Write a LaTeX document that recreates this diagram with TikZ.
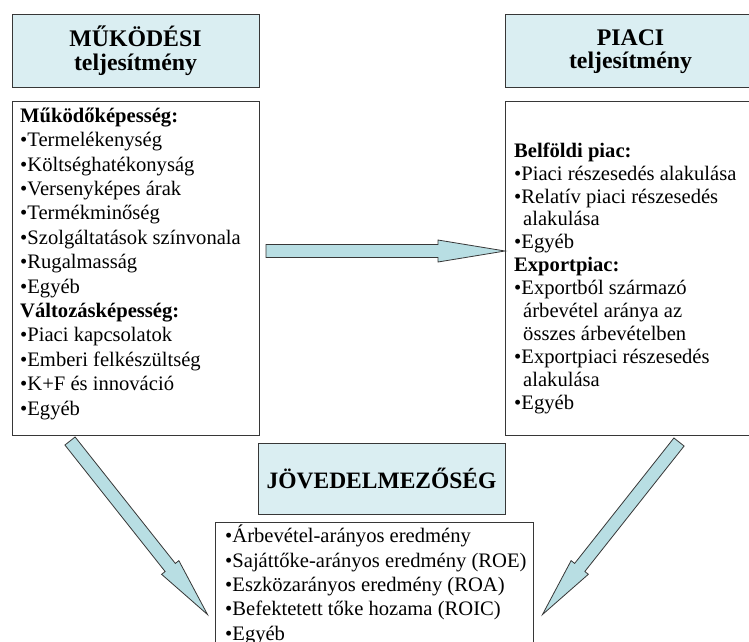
\documentclass[tikz,border=0pt]{standalone}
\usepackage{fontspec}
\setmainfont{Liberation Serif}
\usetikzlibrary{calc}
\definecolor{hdfill}{RGB}{218,238,242}
\definecolor{arfill}{RGB}{184,222,227}
\definecolor{edge}{RGB}{55,55,55}
\newcommand\blockarrow[4]{%
  \coordinate (#1b) at ($(#3)!#4!(#2)$);
  \draw[barrow] ($(#2)!6.5pt!90:(#3)$) -- ($(#1b)!6.5pt!90:(#3)$) -- ($(#1b)!11pt!90:(#3)$) -- (#3)
    -- ($(#1b)!11pt!-90:(#3)$) -- ($(#1b)!6.5pt!-90:(#3)$) -- ($(#2)!6.5pt!-90:(#3)$) -- cycle;}
\tikzset{
  hd/.style={draw=edge, line width=1pt, fill=hdfill, minimum width=247pt, inner sep=0pt, outer sep=0pt},
  bx/.style={draw=edge, line width=0.9pt, fill=white, inner sep=0pt, outer sep=0pt},
  hdtxt/.style={font=\bfseries\fontsize{23.8}{23.3}\selectfont, align=center, inner sep=0pt, anchor=north},
  bodytxt/.style={align=left, inner sep=0pt, anchor=north west},
  barrow/.style={draw=edge, line width=0.8pt, fill=arfill, line join=miter}
}
\begin{document}
\begin{tikzpicture}[x=1pt,y=-1pt]
\useasboundingbox (0,0) rectangle (749,641);
\fill[white] (0,0) rectangle (749,641);
\clip (0,0) rectangle (749,641);
% header boxes
\node[hd, minimum height=73pt] (lhead) at (135.5,50.5) {};
\node[hd, minimum height=73pt] (rhead) at (628.5,50.5) {};
\node[hd, minimum height=71pt] (jhead) at (381.5,478.5) {};
% content boxes
\node[bx, minimum width=247pt, minimum height=334pt] (lbox) at (135.5,268) {};
\node[bx, minimum width=247pt, minimum height=334pt] (rbox) at (628.5,268) {};
\node[bx, minimum width=318pt, minimum height=158pt] (bbox) at (374,601) {};
% header texts
\node[hdtxt] (lheadtxt) at (135.5,26) {\rule{0pt}{19pt}MŰKÖDÉSI\\teljesítmény};
\node[hdtxt] (rheadtxt) at (630.5,26) {\rule{0pt}{19pt}PIACI\\teljesítmény};
\node[font=\bfseries\fontsize{23.5}{23.5}\selectfont, anchor=base, inner sep=0pt] (jheadtxt) at (381.5,488) {JÖVEDELMEZŐSÉG};
% body texts
\node[bodytxt, font=\fontsize{20.6}{24.4}\selectfont] (ltxt) at (20,104) {\rule{0pt}{18pt}\textbf{Működőképesség:}\\•Termelékenység\\•Költséghatékonyság\\•Versenyképes árak\\•Termékminőség\\•Szolgáltatások színvonala\\•Rugalmasság\\•Egyéb\\\textbf{Változásképesség:}\\•Piaci kapcsolatok\\•Emberi felkészültség\\•K+F és innováció\\•Egyéb};
\node[bodytxt, font=\fontsize{20.6}{22.9}\selectfont] (rtxt) at (514,139) {\rule{0pt}{18pt}\textbf{Belföldi piac:}\\•Piaci részesedés alakulása\\•Relatív piaci részesedés\\\hspace*{9pt}alakulása\\•Egyéb\\\textbf{Exportpiac:}\\•Exportból származó\\\hspace*{9pt}árbevétel aránya az\\\hspace*{9pt}összes árbevételben\\•Exportpiaci részesedés\\\hspace*{9pt}alakulása\\•Egyéb};
\node[bodytxt, font=\fontsize{20.6}{24.4}\selectfont] (btxt) at (225,524.5) {\rule{0pt}{18pt}•Árbevétel-arányos eredmény\\•Sajáttőke-arányos eredmény (ROE)\\•Eszközarányos eredmény (ROA)\\•Befektetett tőke hozama (ROIC)\\•Egyéb};
% connectors
\coordinate (h1t) at (266,251);
\coordinate (h1h) at (rbox.west |- h1t);
\blockarrow{h1}{h1t}{h1h}{67pt}
\coordinate (d1t) at (70,441);
\coordinate (d1h) at (207.5,614.5);
\blockarrow{d1}{d1t}{d1h}{60pt}
\coordinate (d2t) at (679,442);
\coordinate (d2h) at (542.5,614.5);
\blockarrow{d2}{d2t}{d2h}{60pt}
\end{tikzpicture}
\end{document}
